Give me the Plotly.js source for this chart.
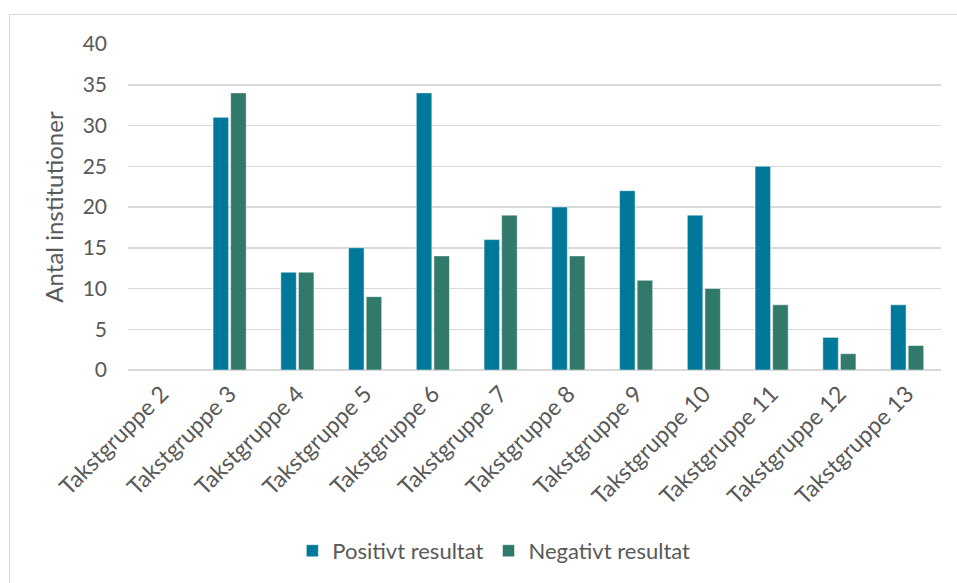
<!DOCTYPE html>
<html>
<head>
<meta charset="utf-8">
<script src="https://cdn.plot.ly/plotly-3.0.1.min.js"></script>
<style>
html,body{margin:0;padding:0;background:#fff;}
#wrap{position:relative;width:957px;height:583px;overflow:hidden;}
#frame{position:absolute;left:9px;top:14px;width:1000px;height:1000px;border-left:1.5px solid #d9d9d9;border-top:1.5px solid #d9d9d9;pointer-events:none;}
#chart{position:absolute;left:0;top:0;width:957px;height:583px;}
</style>
</head>
<body>
<div id="wrap">
<div id="chart"></div>
<div id="frame"></div>
</div>
<script>
const categories = ["Takstgruppe 2","Takstgruppe 3","Takstgruppe 4","Takstgruppe 5","Takstgruppe 6","Takstgruppe 7","Takstgruppe 8","Takstgruppe 9","Takstgruppe 10","Takstgruppe 11","Takstgruppe 12","Takstgruppe 13"];
const positive = [null,31,12,15,34,16,20,22,19,25,4,8];
const negative = [null,34,12,9,14,19,14,11,10,8,2,3];
const yTicks = [0,5,10,15,20,25,30,35,40];

const font = "Lato, 'Open Sans', sans-serif";
const textColor = "#595959";

const traces = [
  {type:"bar", name:"Positivt resultat", x:categories, y:positive,
   marker:{color:"#00789A", line:{color:"rgba(255,255,255,0.6)", width:0.8}}},
  {type:"bar", name:"Negativt resultat", x:categories, y:negative,
   marker:{color:"#31796B", line:{color:"rgba(255,255,255,0.6)", width:0.8}}}
];

const layout = {
  width:957, height:583,
  margin:{l:128, r:16, t:44, b:213, autoexpand:false},
  paper_bgcolor:"#fff", plot_bgcolor:"#fff",
  barmode:"group", bargap:0.48, bargroupgap:0.12,
  font:{family:font, color:textColor, size:21},
  showlegend:true,
  legend:{orientation:"h", x:0.45, xanchor:"center", y:-0.555, yanchor:"middle",
          font:{family:font, size:22, color:textColor}, traceorder:"normal"},
  xaxis:{type:"category", tickangle:-45, tickfont:{family:font, size:23, color:textColor},
         showgrid:false, showline:false, ticks:"", zeroline:false, automargin:false, ticklabelstandoff:5},
  yaxis:{range:[0,40], tickvals:yTicks, tickfont:{family:font, size:21, color:textColor},
         showgrid:true, gridcolor:"#d9d9d9", gridwidth:1.5, zeroline:true, zerolinecolor:"#d9d9d9", zerolinewidth:1.5,
         showline:false, ticks:"", ticklen:0, automargin:false, ticklabelstandoff:20,
         title:{text:"Antal institutioner", font:{family:font, size:24, color:textColor}, standoff:12}}
};

Plotly.newPlot("chart", traces, layout, {displayModeBar:false, staticPlot:true});
</script>
</body>
</html>
